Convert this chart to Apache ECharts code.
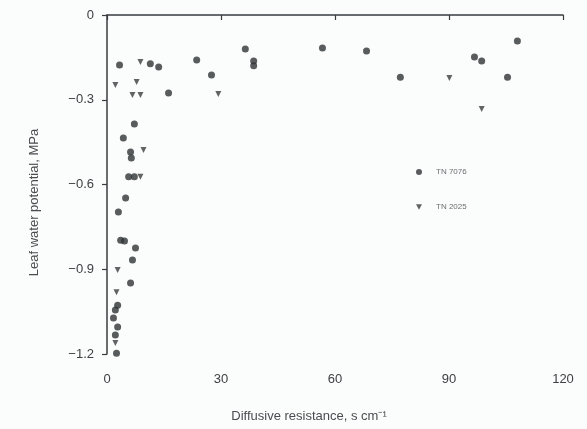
<!DOCTYPE html>
<html>
<head>
<meta charset="utf-8">
<script src="https://cdn.jsdelivr.net/npm/echarts@6/dist/echarts.min.js"></script>
<style>
  html, body { margin: 0; padding: 0; background: #fbfcfc; }
  #chart { width: 587px; height: 429px; }
</style>
</head>
<body>
<div id="chart"></div>
<script>
// Diffusive resistance (s cm^-1) vs leaf water potential (MPa) for two lines
const seriesNames = ['TN 7076', 'TN 2025'];

const tn7076Resistance = [3.3, 11.4, 13.6, 16.2, 7.2, 4.3, 6.2, 6.4, 5.7, 7.2, 4.9, 3.0, 3.6, 4.6, 7.5, 6.7, 6.2, 2.8, 2.2, 1.7, 2.8, 2.2, 2.5,
  23.6, 27.5, 36.4, 38.6, 38.6, 56.7, 68.3, 77.2, 96.7, 98.6, 105.4, 108.0];
const tn7076Potential = [-0.177, -0.173, -0.184, -0.276, -0.386, -0.435, -0.485, -0.506, -0.573, -0.573, -0.648, -0.697, -0.797, -0.80, -0.825, -0.867, -0.949, -1.027, -1.044, -1.073, -1.104, -1.133, -1.197,
  -0.159, -0.212, -0.12, -0.163, -0.18, -0.117, -0.127, -0.22, -0.149, -0.163, -0.22, -0.092];

const tn2025Resistance = [2.2, 8.8, 7.8, 6.7, 8.8, 9.6, 8.8, 2.8, 2.5, 2.2, 29.3, 90.1, 98.6];
const tn2025Potential = [-0.248, -0.166, -0.237, -0.283, -0.283, -0.478, -0.573, -0.903, -0.981, -1.161, -0.28, -0.223, -0.333];

const xTicks = [0, 30, 60, 90, 120];
const yTicks = [0, -0.3, -0.6, -0.9, -1.2];

function pairs(xs, ys) {
  return xs.map((x, i) => [x, ys[i]]);
}

const ink = '#3a3d3f';
const font = '"Liberation Sans", Arial, sans-serif';
const downTriangle = 'path://M0,0 L10,0 L5,9 Z';

const chart = echarts.init(document.getElementById('chart'), null, { renderer: 'canvas' });
chart.setOption({
  backgroundColor: '#fbfcfc',
  animation: false,
  grid: { left: 107, right: 24, top: 15, bottom: 75 },
  legend: {
    orient: 'vertical',
    left: 416,
    top: 168,
    padding: 0,
    itemGap: 27,
    itemWidth: 6,
    itemHeight: 6,
    textStyle: { fontFamily: font, fontSize: 8, color: '#6b6e70', padding: [0, 0, 0, 9] },
    data: [
      { name: seriesNames[0], icon: 'circle' },
      { name: seriesNames[1], icon: downTriangle }
    ]
  },
  xAxis: {
    type: 'value',
    min: xTicks[0],
    max: xTicks[xTicks.length - 1],
    interval: xTicks[1] - xTicks[0],
    name: 'Diffusive resistance, s cm⁻¹',
    nameLocation: 'middle',
    nameGap: 56,
    nameTextStyle: { fontFamily: font, fontSize: 13, color: '#4a4d50', padding: [0, 52, 0, 0] },
    axisLine: { lineStyle: { color: ink, width: 1.5 } },
    axisTick: { show: true, length: 5, lineStyle: { color: ink, width: 1.2 } },
    axisLabel: { fontFamily: font, fontSize: 13, color: '#3e4143', margin: 19 },
    splitLine: { show: false }
  },
  yAxis: {
    type: 'value',
    min: yTicks[yTicks.length - 1],
    max: yTicks[0],
    interval: 0.3,
    name: 'Leaf water potential, MPa',
    nameLocation: 'middle',
    nameGap: 66,
    nameTextStyle: { fontFamily: font, fontSize: 13, color: '#4a4d50', padding: [0, 36, 0, 0] },
    axisLine: { lineStyle: { color: ink, width: 1.5 } },
    axisTick: { show: true, length: 5, lineStyle: { color: ink, width: 1.2 } },
    axisLabel: {
      fontFamily: font, fontSize: 13, color: '#3e4143', margin: 13,
      formatter: v => (v === 0 ? '0' : '\u2212' + Math.abs(v).toFixed(1))
    },
    splitLine: { show: false }
  },
  series: [
    {
      name: seriesNames[0],
      type: 'scatter',
      symbol: 'circle',
      symbolSize: 7,
      itemStyle: { color: '#303335' },
      data: pairs(tn7076Resistance, tn7076Potential)
    },
    {
      name: seriesNames[1],
      type: 'scatter',
      symbol: 'triangle',
      symbolRotate: 180,
      symbolSize: 6,
      itemStyle: { color: '#3a3d3f' },
      data: pairs(tn2025Resistance, tn2025Potential)
    }
  ]
});
</script>
</body>
</html>
